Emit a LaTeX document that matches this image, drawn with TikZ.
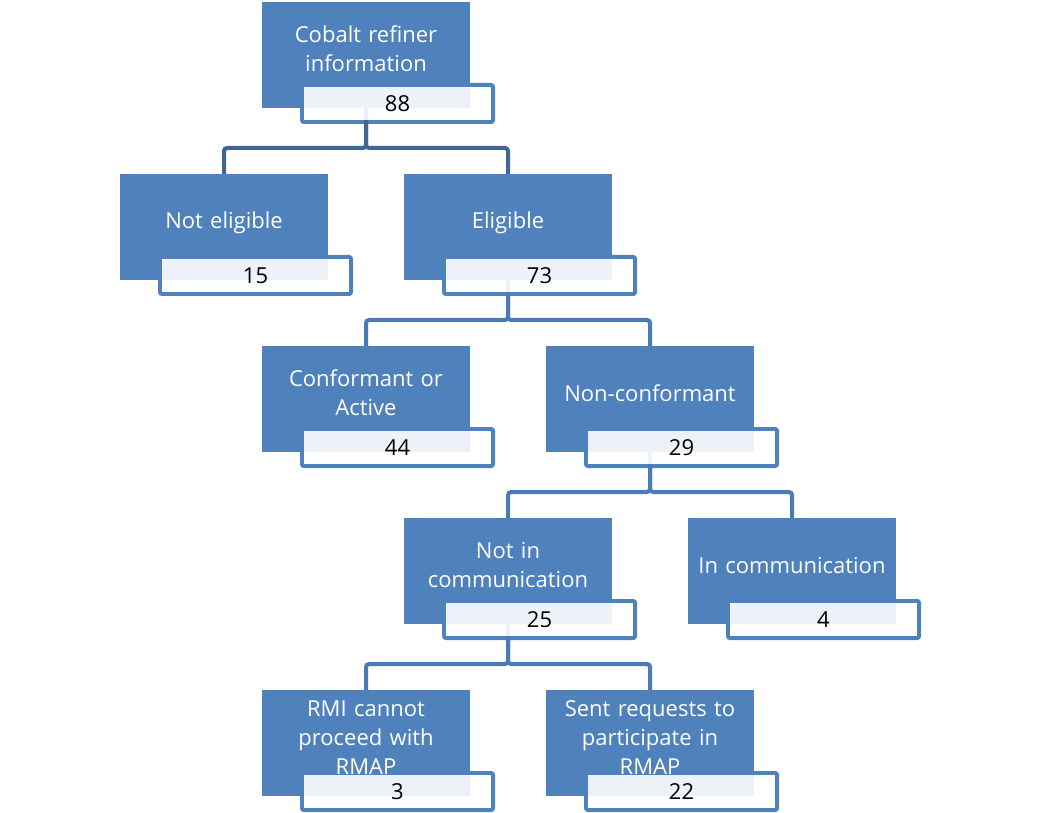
\documentclass[tikz,border=0pt]{standalone}
\usepackage{fontspec}
\setmainfont{Open Sans}
\definecolor{boxblue}{HTML}{4F81BD}
\definecolor{linkblue}{HTML}{4A7BB7}
\definecolor{linkdark}{HTML}{3F6696}
\begin{document}
\begin{tikzpicture}
  [x=1pt,y=-1pt]
      \tikzstyle{box_style} = [fill=boxblue, minimum width=208pt, minimum height=106pt, inner sep=0pt, outer sep=0pt, text width=204pt, align=center, text=white, font=\fontsize{22}{29}\selectfont, execute at begin node={\rule{0pt}{20pt}}, execute at end node={\rule[-16pt]{0pt}{16pt}}]
      \tikzstyle{frame_style} = [draw=boxblue, line width=4pt, rounded corners=2pt, minimum width=191pt, minimum height=37pt, inner sep=0pt, outer sep=0pt]
      \tikzstyle{value_style} = [fill=white, fill opacity=.9, text opacity=1, minimum width=187pt, minimum height=33pt, inner sep=0pt, font=\fontsize{22}{26}\selectfont]
      \tikzstyle{edge_style} = [draw=linkblue, line width=4pt, rounded corners=3pt]
  \useasboundingbox (0,0) rectangle (1037,813);
  % frames of the value boxes, behind the blue boxes
  \node[frame_style] (b0) at (397.5,103.5) {};
  \node[frame_style] (b1) at (255.5,275.5) {};
  \node[frame_style] (b2) at (539.5,275.5) {};
  \node[frame_style] (b3) at (397.5,447.5) {};
  \node[frame_style] (b4) at (681.5,447.5) {};
  \node[frame_style] (b5) at (539.5,619.5) {};
  \node[frame_style] (b6) at (823.5,619.5) {};
  \node[frame_style] (b7) at (397.5,791.5) {};
  \node[frame_style] (b8) at (681.5,791.5) {};
  % blue boxes
  \node[box_style] (n0) at (366,55) {Cobalt refiner\\information};
  \node[box_style] (n1) at (224,227) {Not eligible};
  \node[box_style] (n2) at (508,227) {Eligible};
  \node[box_style] (n3) at (366,399) {Conformant or\\Active};
  \node[box_style] (n4) at (650,399) {Non-conformant};
  \node[box_style] (n5) at (508,571) {Not in\\communication};
  \node[box_style] (n6) at (792,571) {In communication};
  \node[box_style] (n7) at (366,743) {RMI cannot\\proceed with\\RMAP};
  \node[box_style] (n8) at (650,743) {Sent requests to\\participate in\\RMAP};
  % connectors
  \draw[edge_style, draw=linkdark] (n1.north) -- ++(0,-26) -| (n0.south);
  \draw[edge_style, draw=linkdark] (n2.north) -- ++(0,-26) -| (n0.south);
  \draw[edge_style] (n3.north) -- ++(0,-26) -| (n2.south);
  \draw[edge_style] (n4.north) -- ++(0,-26) -| (n2.south);
  \draw[edge_style] (n5.north) -- ++(0,-26) -| (n4.south);
  \draw[edge_style] (n6.north) -- ++(0,-26) -| (n4.south);
  \draw[edge_style] (n7.north) -- ++(0,-26) -| (n5.south);
  \draw[edge_style] (n8.north) -- ++(0,-26) -| (n5.south);
  % values
  \node[value_style] (v0) at (b0) {88};
  \node[value_style] (v1) at (b1) {15};
  \node[value_style] (v2) at (b2) {73};
  \node[value_style] (v3) at (b3) {44};
  \node[value_style] (v4) at (b4) {29};
  \node[value_style] (v5) at (b5) {25};
  \node[value_style] (v6) at (b6) {4};
  \node[value_style] (v7) at (b7) {3};
  \node[value_style] (v8) at (b8) {22};
\end{tikzpicture}
\end{document}
